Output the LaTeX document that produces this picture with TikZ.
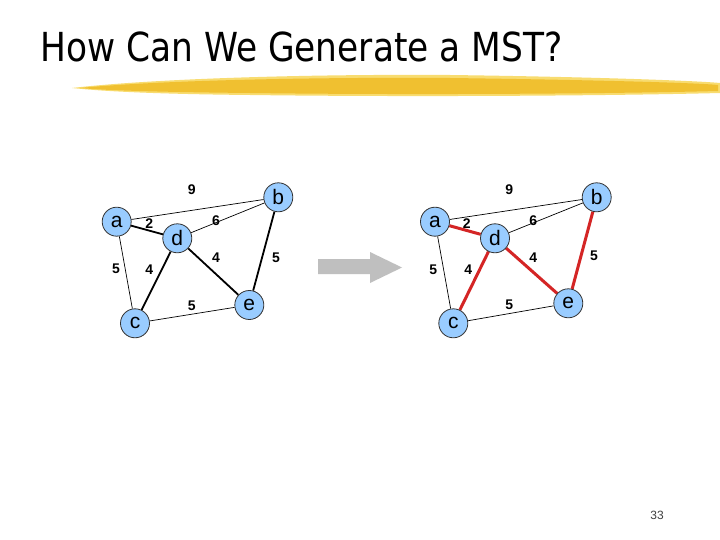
\documentclass[tikz,border=0pt]{standalone}
\usepackage{fontspec}
\setmainfont{Liberation Sans}
\newfontfamily\titlefont{DejaVu Sans}
\usetikzlibrary{backgrounds}
\definecolor{nodeblue}{HTML}{99CCFF}
\definecolor{mstred}{HTML}{D42525}
\definecolor{brushA}{HTML}{F0C030}
\definecolor{brushB}{HTML}{F8DC70}
\definecolor{arrowgray}{HTML}{BFBFBF}
\tikzset{
  vtx/.style={circle,draw=black!80,line width=0.8pt,fill=nodeblue,minimum size=29pt,inner sep=0pt,font=\fontsize{21}{21}\selectfont},
  thin edge/.style={draw=black,line width=0.7pt},
  thick edge/.style={draw=black,line width=1.8pt},
  red edge/.style={draw=mstred,line width=3pt},
  wlabel/.style={font=\bfseries\fontsize{14}{14}\selectfont,inner sep=0pt}
}
\begin{document}
\begin{tikzpicture}[x=1pt,y=-1pt]
\useasboundingbox (0,0) rectangle (720,540);
% brush stroke
\fill[brushB] (72,88) .. controls (150,79) and (300,74) .. (450,75) .. controls (600,77) and (700,81) .. (720,83) -- (720,93) .. controls (600,96) and (400,97) .. (250,95) .. controls (150,94) and (100,91) .. (72,88) -- cycle;
\fill[brushA] (80,88) .. controls (150,81) and (300,77) .. (450,78) .. controls (600,80) and (700,83) .. (718,85) -- (718,91) .. controls (600,94) and (400,95) .. (250,93) .. controls (150,92) and (100,90) .. (80,88) -- cycle;
% title
\node[anchor=base west,inner sep=0pt,font=\titlefont\fontsize{40}{40}\selectfont] (title) at (40,62) {\scalebox{0.86}[1]{How Can We Generate a MST?}};
% left graph
\node[vtx] (a) at (116.7,221.7) {a};
\node[vtx] (d) at (177.3,238.3) {d};
\node[vtx] (b) at (278.3,197.3) {b};
\node[vtx] (c) at (135,323.3) {c};
\node[vtx] (e) at (249.3,305) {e};
\node[wlabel] (l9) at (191.7,190) {9};
\node[wlabel] (l2) at (149.3,223.3) {2};
\node[wlabel] (l6) at (216,220.7) {6};
\node[wlabel] (l4a) at (216,257.3) {4};
\node[wlabel] (l5a) at (276,257.3) {5};
\node[wlabel] (l5b) at (116,268.3) {5};
\node[wlabel] (l4b) at (149.3,269.3) {4};
\node[wlabel] (l5c) at (191.7,306) {5};
% right graph
\node[vtx] (a2) at (435,221.7) {a};
\node[vtx] (d2) at (495,238.3) {d};
\node[vtx] (b2) at (596.7,197.3) {b};
\node[vtx] (c2) at (453.3,323.3) {c};
\node[vtx] (e2) at (568.3,303.3) {e};
\node[wlabel] (r9) at (509.3,189.3) {9};
\node[wlabel] (r2) at (466.7,223.3) {2};
\node[wlabel] (r6) at (533.3,220.7) {6};
\node[wlabel] (r4a) at (533.3,257.3) {4};
\node[wlabel] (r5a) at (594,256) {5};
\node[wlabel] (r5b) at (433.3,269.3) {5};
\node[wlabel] (r4b) at (468.3,269.3) {4};
\node[wlabel] (r5c) at (509.3,305) {5};
% edges behind nodes
\begin{pgfonlayer}{background}
\fill[white] (0,0) rectangle (720,540);
\path[thin edge] (a) -- (b) (d) -- (b) (a) -- (c) (c) -- (e);
\path[thick edge] (a) -- (d) (d) -- (c) (d) -- (e) (b) -- (e);
\path[thin edge] (a2) -- (b2) (d2) -- (b2) (a2) -- (c2) (c2) -- (e2);
\path[red edge] (a2) -- (d2) (d2) -- (c2) (d2) -- (e2) (b2) -- (e2);
\end{pgfonlayer}
% arrow
\fill[arrowgray] (318,259) -- (370,259) -- (370,252) -- (402,267.5) -- (370,283) -- (370,274) -- (318,274) -- cycle;
% page number
\node[font=\fontsize{12}{12}\selectfont,text=black!75] (page) at (657,515) {33};
\end{tikzpicture}
\end{document}
